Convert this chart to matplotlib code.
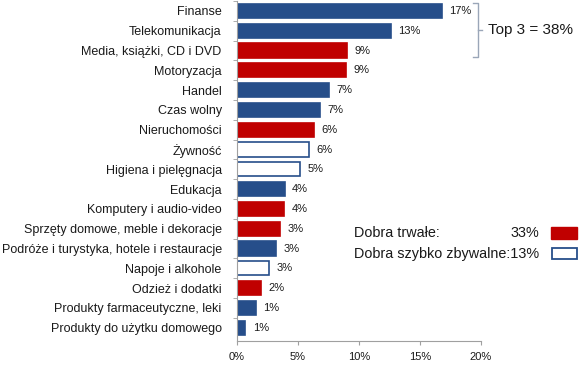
import matplotlib
matplotlib.use("Agg")
import matplotlib.pyplot as plt
from matplotlib.patches import Rectangle
from matplotlib.lines import Line2D

plt.rcParams['font.family'] = ['Liberation Sans', 'DejaVu Sans']

categories = ["Finanse", "Telekomunikacja", "Media, książki, CD i DVD", "Motoryzacja",
              "Handel", "Czas wolny", "Nieruchomości", "Żywność", "Higiena i pielęgnacja",
              "Edukacja", "Komputery i audio-video", "Sprzęty domowe, meble i dekoracje",
              "Podróże i turystyka, hotele i restauracje", "Napoje i alkohole",
              "Odzież i dodatki", "Produkty farmaceutyczne, leki", "Produkty do użytku domowego"]
values = [16.8, 12.6, 9.0, 8.9, 7.5, 6.8, 6.3, 5.9, 5.2, 3.9, 3.85, 3.5, 3.2, 2.65, 1.97, 1.53, 0.68]
value_labels = ["17%", "13%", "9%", "9%", "7%", "7%", "6%", "6%", "5%", "4%", "4%", "3%",
                "3%", "3%", "2%", "1%", "1%"]
groups = ["other", "other", "durable", "durable", "other", "other", "durable", "fast", "fast",
          "other", "durable", "durable", "other", "fast", "durable", "other", "other"]
xticks = [0, 5, 10, 15, 20]
xtick_labels = ["0%", "5%", "10%", "15%", "20%"]
top3_text = "Top 3 = 38%"
legend_names = ["Dobra trwałe:", "Dobra szybko zbywalne:"]
legend_values = ["33%", "13%"]

BLUE = "#264e8a"
RED = "#c00000"
TEXT = "#1a1a1a"
GREY = "#9aa6b8"

W, H = 582, 366
fig = plt.figure(figsize=(W / 100, H / 100), dpi=100)
ax = fig.add_axes([237 / W, 1 - 341 / H, (481 - 237) / W, 340 / H])

n = len(categories)
pos = list(range(n))
face = {"other": BLUE, "durable": RED, "fast": "white"}
edge = {"other": BLUE, "durable": RED, "fast": BLUE}
for y, v, g in zip(pos, values, groups):
    ax.barh(y, v, height=0.72, color=face[g], edgecolor=edge[g], linewidth=1.2)
for y, v, lab in zip(pos, values, value_labels):
    ax.text(v + 0.62, y, lab, va="center", ha="left", fontsize=8, color=TEXT)

ax.set_ylim(n - 0.5 + 0.17, -0.5)
ax.set_xlim(0, 20)
ax.set_yticks(pos)
ax.set_yticklabels(categories, fontsize=9.0, color=TEXT)
ax.set_yticks([i - 0.5 for i in range(n)], minor=True)
ax.tick_params(axis="y", which="major", length=0, pad=11)
ax.tick_params(axis="y", which="minor", length=3, color="#a0a0a0", direction="out")
ax.set_xticks(xticks)
ax.set_xticklabels(xtick_labels, fontsize=8, color=TEXT)
ax.tick_params(axis="x", length=3, color="#a0a0a0", pad=5)
for s in ["top", "right"]:
    ax.spines[s].set_visible(False)
for s in ["left", "bottom"]:
    ax.spines[s].set_color("#a0a0a0")
    ax.spines[s].set_linewidth(0.8)

# bracket for top 3
def fx(px):
    return px / W
def fy(py):
    return 1 - py / H
bx = 477.5
for xs, ys in [([473, bx, bx, 473], [3, 3, 57, 57]), ([bx, 482], [30, 30])]:
    fig.add_artist(Line2D([fx(x) for x in xs], [fy(y) for y in ys], color=GREY, lw=1.0))
fig.text(fx(488), fy(30), top3_text, ha="left", va="center", fontsize=11, color=TEXT)

# legend
leg_y = [233, 254]
fs_leg = 10.4
fig.text(fx(354), fy(leg_y[0]), legend_names[0], ha="left", va="center", fontsize=fs_leg, color=TEXT)
fig.text(fx(539), fy(leg_y[0]), legend_values[0], ha="right", va="center", fontsize=fs_leg, color=TEXT)
fig.text(fx(354), fy(leg_y[1]), legend_names[1] + legend_values[1], ha="left", va="center",
         fontsize=fs_leg, color=TEXT)
fig.add_artist(Rectangle((fx(551), fy(239)), fx(577) - fx(551), fy(227) - fy(239),
                         transform=fig.transFigure, facecolor=RED, edgecolor=RED, lw=1))
fig.add_artist(Rectangle((fx(551.5), fy(259)), fx(577) - fx(551.5), fy(248) - fy(259),
                         transform=fig.transFigure, facecolor="white", edgecolor=BLUE, lw=1.3))

fig.savefig("out.png", dpi=100)
